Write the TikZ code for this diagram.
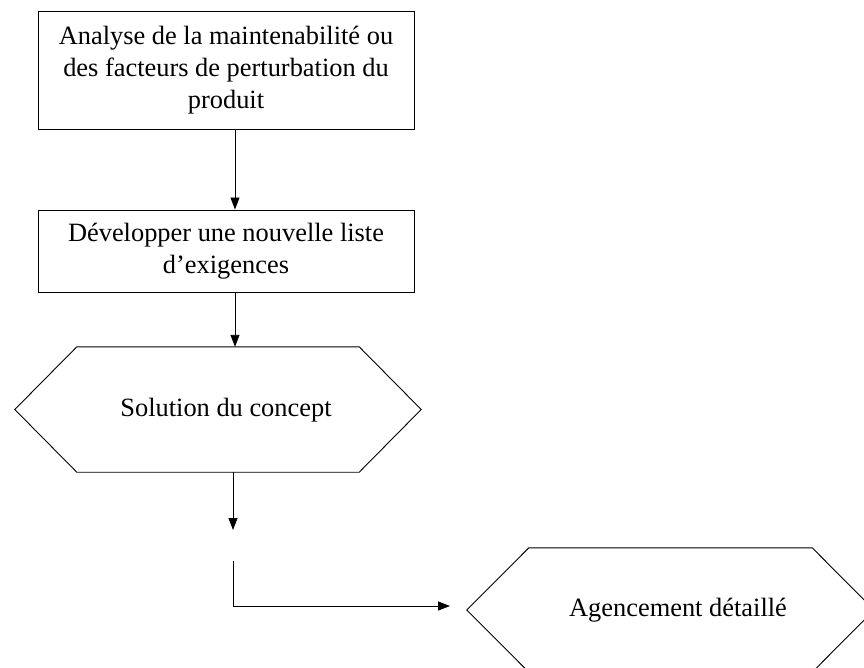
\documentclass[tikz,border=0pt]{standalone}
\usepackage{fontspec}
\setmainfont{Liberation Serif}
\usetikzlibrary{arrows.meta,calc}

\tikzset{
  flowtext/.style={font=\fontsize{26.4}{32}\selectfont, align=center, inner sep=0pt},
  stepbox/.style={draw, line width=0.9pt, rectangle, minimum width=376pt, inner sep=0pt},
  hexbody/.style={draw=none, rectangle, inner sep=0pt},
  hexline/.style={line width=0.9pt, line join=miter},
  arr/.style={line width=0.9pt, -{Triangle[length=12pt,width=9pt]}}
}

\begin{document}
\begin{tikzpicture}[x=1pt,y=-1pt]
  \useasboundingbox (0,0) rectangle (864,668);
  \clip (0,0) rectangle (864,668);

  % rectangular steps
  \node[stepbox, minimum height=118pt] (analyse) at (226,70) {};
  \node[flowtext] (analysetxt) at (analyse.center)
    {Analyse de la maintenabilité ou\\des facteurs de perturbation du\\produit};

  \node[stepbox, minimum height=82pt] (exig) at (226,251) {};
  \node[flowtext] (exigtxt) at (exig.center)
    {Développer une nouvelle liste\\d’exigences};

  % hexagonal steps: inner rectangle plus pointed ends
  \node[hexbody, minimum width=282pt, minimum height=125pt] (sol) at (218,409.5) {};
  \draw[hexline] (sol.north west) -- (sol.north east) -- ($(sol.east)+(62,0)$)
    -- (sol.south east) -- (sol.south west) -- ($(sol.west)+(-62,0)$) -- cycle;
  \node[flowtext] (soltxt) at (226,410) {Solution du concept};

  \node[hexbody, minimum width=283pt, minimum height=124pt] (agenc) at (670.5,610) {};
  \draw[hexline] (agenc.north west) -- (agenc.north east) -- ($(agenc.east)+(62,0)$)
    -- (agenc.south east) -- (agenc.south west) -- ($(agenc.west)+(-62,0)$) -- cycle;
  \node[flowtext] (agenctxt) at (678,610) {Agencement détaillé};

  % free ends of the broken connector
  \coordinate (solend) at (233,530);
  \coordinate (restart) at (233,561);
  \coordinate (bend) at (233,606);
  \coordinate (agencin) at (450,606);

  % connectors
  \draw[arr] ($(analyse.south)+(9,0)$) -- ($(exig.north)+(9,0)$);
  \draw[arr] ($(exig.south)+(9,0)$) -- ($(sol.north)+(17,0)$);
  \draw[arr] ($(sol.south)+(15,0)$) -- (solend);
  \draw[arr] (restart) -- (bend) -- (agencin);
\end{tikzpicture}
\end{document}
